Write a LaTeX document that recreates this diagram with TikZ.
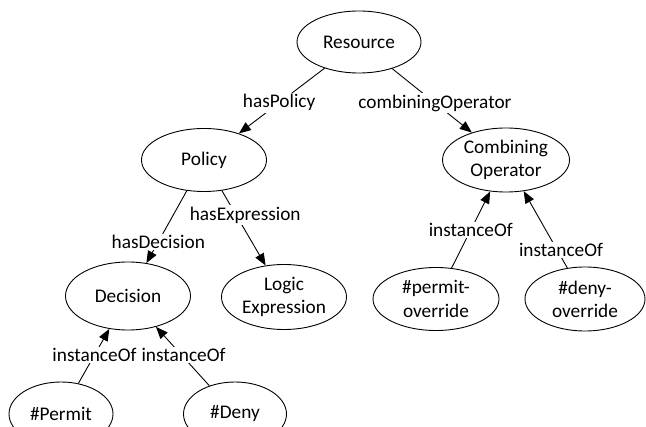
\documentclass[tikz,border=0pt]{standalone}
\usepackage{fontspec}
\setmainfont{Carlito}
\usetikzlibrary{shapes.geometric,arrows.meta}
\tikzset{
  cls/.style={draw, ellipse, line width=0.9pt, inner sep=0pt, align=center,
    font=\fontsize{19.3}{23.2}\selectfont},
  rel/.style={line width=0.9pt, -{Triangle[length=12pt,width=9.5pt]}},
  lbl/.style={fill=white, inner sep=1.5pt, font=\fontsize{19.3}{23.2}\selectfont}
}
\begin{document}
\begin{tikzpicture}[x=1pt, y=-1pt]
\useasboundingbox[fill=white] (0,0) rectangle (646,427);

% classes and instances
\node[cls, minimum width=124pt, minimum height=62pt] (res)   at (359,42)  {Resource};
\node[cls, minimum width=125pt, minimum height=63pt] (pol)   at (204,160) {Policy};
\node[cls, minimum width=127pt, minimum height=64pt] (comb)  at (506,160) {Combining\\Operator};
\node[cls, minimum width=125pt, minimum height=68pt] (dec)   at (128,296) {Decision};
\node[cls, minimum width=125pt, minimum height=65pt] (logic) at (284,297) {Logic\\Expression};
\node[cls, minimum width=126pt, minimum height=63pt] (po)    at (436,299) {\#permit-\\override};
\node[cls, minimum width=120pt, minimum height=64pt] (do)    at (585,299) {\#deny-\\override};
\node[cls, minimum width=104pt, minimum height=64pt] (permit) at (61,414) {\#Permit};
\node[cls, minimum width=103pt, minimum height=64pt] (deny)   at (235,414) {\#Deny};

% properties
\draw[rel] (res) -- node[lbl, pos=0.53] (l1) {hasPolicy} (pol);
\draw[rel] (res) -- node[lbl, pos=0.537] (l2) {combiningOperator} (comb);
\draw[rel] (pol) -- node[lbl, pos=0.706] (l3) {hasDecision} (dec);
\draw[rel] (pol) -- node[lbl, pos=0.328, xshift=9pt] (l4) {hasExpression} (logic);
\draw[rel] (permit) -- node[lbl, pos=0.52] (l5) {instanceOf} (dec);
\draw[rel] (deny) -- node[lbl, pos=0.522, xshift=2pt] (l6) {instanceOf} (dec);
\draw[rel] (po) -- node[lbl, pos=0.496] (l7) {instanceOf} (comb);
\draw[rel] (do) -- node[lbl, pos=0.237, xshift=4pt] (l8) {instanceOf} (comb);
\end{tikzpicture}
\end{document}
